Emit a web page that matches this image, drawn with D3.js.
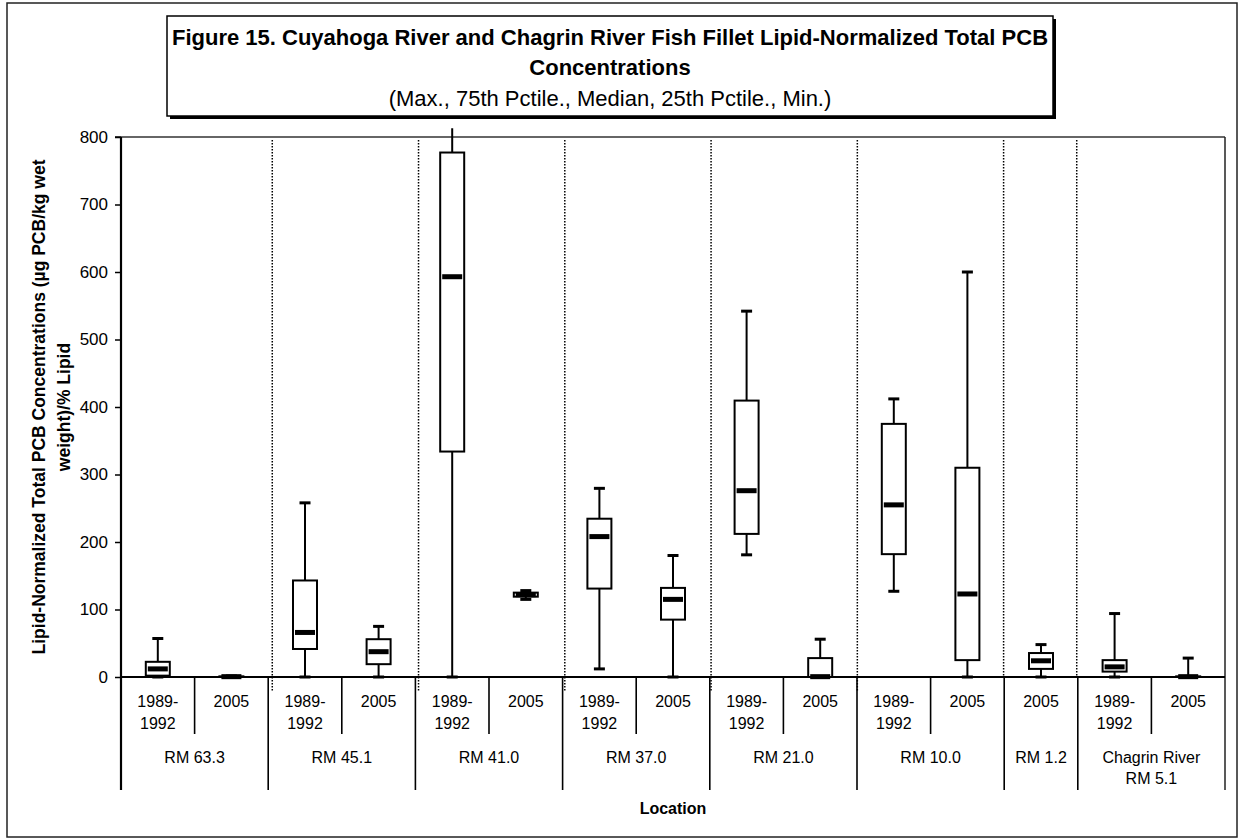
<!DOCTYPE html>
<html><head><meta charset="utf-8">
<script src="https://cdn.jsdelivr.net/npm/d3@7"></script>
<style>
body{margin:0;background:#fff}
svg{display:block}
text{font-family:Arial,"Liberation Sans",Helvetica,sans-serif;fill:#000}
</style>
</head><body>
<svg id="c" width="1238" height="839"></svg>
<script>
// ---- data ----
const locations = ["RM 63.3","RM 45.1","RM 41.0","RM 37.0","RM 21.0","RM 10.0","RM 1.2","Chagrin River|RM 5.1"];
const catLocation = [0,0,1,1,2,2,3,3,4,4,5,5,6,7,7];
const catPeriod = ["1989-|1992","2005","1989-|1992","2005","1989-|1992","2005","1989-|1992","2005","1989-|1992","2005","1989-|1992","2005","2005","1989-|1992","2005"];
const maxV = [57, 1.5, 258, 75, 813, 128, 279.5, 180, 542, 56, 412, 600, 48, 94, 28];
const q3V  = [22.5, 1, 143, 56, 777, 125, 234.5, 132, 409.5, 28, 375, 310, 35.5, 25, 1];
const medV = [12, 0.5, 66, 37.5, 593, 122, 208, 115, 276, 0.5, 255, 123, 24, 15, 0.5];
const q1V  = [2, 0, 41.5, 19, 334, 119, 131, 85, 212, 0, 182, 25, 12, 8, 0];
const minV = [0, 0, 0, 0, 0, 115, 12, 0, 181, 0, 127, 0, 0, 0, 0];
const yTicks = [0,100,200,300,400,500,600,700,800];
const titleLines = ["Figure 15. Cuyahoga River and Chagrin River Fish Fillet Lipid-Normalized Total PCB","Concentrations"];
const subtitle = "(Max., 75th Pctile., Median, 25th Pctile., Min.)";
const yLabel = ["Lipid-Normalized Total PCB Concentrations (\u00b5g PCB/kg wet","weight)/% Lipid"];
const xLabel = "Location";

// ---- layout ----
const svg = d3.select("#c");
const L = 121, R = 1225, T = 137, B = 677;
const n = catPeriod.length;
const x = d3.scaleBand().domain(d3.range(n)).range([L, R]).padding(0);
const xLine = d3.scaleLinear().domain([0, n]).range([L, R]);
const xDot = d3.scaleLinear().domain([0, n]).range([L + 5, R - 2]);
const y = d3.scaleLinear().domain([0, 800]).range([B, T]);

// outer border
svg.append("rect").attr("x",7).attr("y",3).attr("width",1230).attr("height",834)
  .attr("fill","none").attr("stroke","#222").attr("stroke-width",1.5);

// title box with shadow
const tb = {x:167, y:16, w:886, h:100};
svg.append("rect").attr("x",tb.x+3).attr("y",tb.y+3).attr("width",tb.w).attr("height",tb.h).attr("fill","#000");
svg.append("rect").attr("x",tb.x).attr("y",tb.y).attr("width",tb.w).attr("height",tb.h)
  .attr("fill","#fff").attr("stroke","#000").attr("stroke-width",1.5);
const tcx = tb.x + tb.w/2;
svg.append("text").attr("x",tcx).attr("y",45).attr("text-anchor","middle")
  .style("font-size","22px").style("font-weight","bold").text(titleLines[0]);
svg.append("text").attr("x",tcx).attr("y",75).attr("text-anchor","middle")
  .style("font-size","22px").style("font-weight","bold").text(titleLines[1]);
svg.append("text").attr("x",tcx).attr("y",106).attr("text-anchor","middle")
  .style("font-size","22px").text(subtitle);

// plot frame (top & right)
svg.append("line").attr("x1",L).attr("x2",R).attr("y1",T).attr("y2",T).attr("stroke","#333").attr("stroke-width",1.3);
svg.append("line").attr("x1",R).attr("x2",R).attr("y1",T).attr("y2",790).attr("stroke","#222").attr("stroke-width",1.5);

// group boundaries (category index where a new location starts)
const bounds = [];
for (let i = 1; i < n; i++) if (catLocation[i] !== catLocation[i-1]) bounds.push(i);

// dotted separators
svg.selectAll("line.dot").data(bounds).join("line").attr("class","dot")
  .attr("x1",d=>xDot(d)).attr("x2",d=>xDot(d)).attr("y1",T+3)
  .attr("y2",(d,i)=> i < 5 ? B+15 : B)
  .attr("stroke","#000").attr("stroke-width",1.5).attr("stroke-dasharray","1.5,1.5");

// y axis
const yAxis = svg.append("g").attr("transform",`translate(${L},0)`)
  .call(d3.axisLeft(y).tickValues(yTicks).tickSize(6).tickPadding(7));
yAxis.select(".domain").remove();
yAxis.selectAll(".tick line").attr("stroke","#000").attr("stroke-width",1.5);
yAxis.selectAll(".tick text").style("font-size","17px").style("font-family","Arial,'Liberation Sans',sans-serif");
yAxis.append("line").attr("x1",-6).attr("x2",0).attr("y1",T).attr("y2",T).attr("stroke","#000").attr("stroke-width",1.5);
svg.append("line").attr("x1",L).attr("x2",L).attr("y1",T).attr("y2",790).attr("stroke","#000").attr("stroke-width",2.2);

// y label
const yl = svg.append("text").attr("transform",`translate(0,${(T+B)/2}) rotate(-90)`)
  .attr("text-anchor","middle").style("font-size","17.5px").style("font-weight","bold");
yl.append("tspan").attr("x",0).attr("y",45).text(yLabel[0]);
yl.append("tspan").attr("x",0).attr("y",70).text(yLabel[1]);

// box plots
const bw = 24, capW = 11, medW = 20;
const g = svg.append("g");
const idx = d3.range(n);
// whiskers
g.selectAll("line.wh").data(idx).join("line").attr("class","wh")
  .attr("x1",i=>x(i)+x.bandwidth()/2).attr("x2",i=>x(i)+x.bandwidth()/2)
  .attr("y1",i=>y(minV[i])).attr("y2",i=>y(maxV[i]))
  .attr("stroke","#000").attr("stroke-width",2);
// caps
g.selectAll("line.capmax").data(idx.filter(i=>maxV[i] <= 800)).join("line").attr("class","capmax")
  .attr("x1",i=>x(i)+x.bandwidth()/2-capW/2).attr("x2",i=>x(i)+x.bandwidth()/2+capW/2)
  .attr("y1",i=>y(maxV[i])).attr("y2",i=>y(maxV[i]))
  .attr("stroke","#000").attr("stroke-width",3);
g.selectAll("line.capmin").data(idx).join("line").attr("class","capmin")
  .attr("x1",i=>x(i)+x.bandwidth()/2-capW/2).attr("x2",i=>x(i)+x.bandwidth()/2+capW/2)
  .attr("y1",i=>y(minV[i])).attr("y2",i=>y(minV[i]))
  .attr("stroke","#000").attr("stroke-width",3);
// boxes
g.selectAll("rect.box").data(idx).join("rect").attr("class","box")
  .attr("x",i=>x(i)+x.bandwidth()/2-bw/2).attr("width",bw)
  .attr("y",i=>y(q3V[i])).attr("height",i=>Math.max(0,y(q1V[i])-y(q3V[i])))
  .attr("fill","#fff").attr("stroke","#000").attr("stroke-width",2);
// medians
g.selectAll("rect.med").data(idx).join("rect").attr("class","med")
  .attr("x",i=>x(i)+x.bandwidth()/2-medW/2).attr("width",medW)
  .attr("y",i=>y(medV[i])-2.5).attr("height",5).attr("fill","#000");

// bottom axis
svg.append("line").attr("x1",L).attr("x2",R).attr("y1",B).attr("y2",B).attr("stroke","#000").attr("stroke-width",2.2);
const allB = d3.range(1, n);
svg.selectAll("line.cdiv").data(allB).join("line").attr("class","cdiv")
  .attr("x1",d=>xLine(d)).attr("x2",d=>xLine(d)).attr("y1",B)
  .attr("y2",d=> bounds.includes(d) ? 790 : 734)
  .attr("stroke","#000").attr("stroke-width",1.6);

// period labels
const pl = svg.selectAll("text.per").data(idx).join("text").attr("class","per")
  .attr("text-anchor","middle").style("font-size","16px");
pl.each(function(i){
  const parts = catPeriod[i].split("|");
  const t = d3.select(this);
  parts.forEach((p,k)=> t.append("tspan").attr("x",x(i)+x.bandwidth()/2).attr("y",707+k*22).text(p));
});

// location labels
const locSpans = locations.map((loc,li)=>{
  const cats = idx.filter(i=>catLocation[i]===li);
  return {loc, x0: xLine(cats[0]), x1: xLine(cats[cats.length-1]+1)};
});
svg.selectAll("text.loc").data(locSpans).join("text").attr("class","loc")
  .attr("text-anchor","middle").style("font-size","16px")
  .each(function(d){
    const t = d3.select(this);
    d.loc.split("|").forEach((p,k)=> t.append("tspan").attr("x",(d.x0+d.x1)/2).attr("y",763+k*21).text(p));
  });

// x label
svg.append("text").attr("x",(L+R)/2).attr("y",814).attr("text-anchor","middle")
  .style("font-size","16px").style("font-weight","bold").text(xLabel);
</script>
</body></html>
